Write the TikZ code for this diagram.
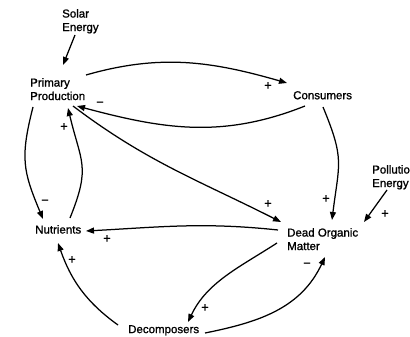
\documentclass[tikz,border=0pt]{standalone}
\usepackage{fontspec}
\setmainfont{Liberation Sans}[FakeBold=1.2]
\usetikzlibrary{arrows.meta}
\begin{document}
\begin{tikzpicture}[x=1pt,y=-1pt,
  lbl/.style={font=\fontsize{11.5}{13.5}\selectfont, inner sep=0pt, anchor=north west, align=left},
  sgn/.style={font=\fontsize{13}{14}\selectfont, inner sep=0pt},
  conn/.style={line width=1.25pt, -{Triangle[length=8pt,width=6pt]}}]
\useasboundingbox (0,0) rectangle (410,337);
\clip (0,0) rectangle (410,337);
% nodes
\node[lbl] (solar) at (62,9) {Solar\\Energy};
\node[lbl] (pp) at (30,78) {Primary\\Production};
\node[lbl] (cons) at (293,91) {Consumers};
\node[lbl] (nut) at (35,225) {Nutrients};
\node[lbl] (dom) at (287,228) {Dead Organic\\Matter};
\node[lbl] (dec) at (128,325) {Decomposers};
\node[lbl] (poll) at (372,165) {Pollution\\Energy};
% connectors
\draw[conn] ([shift={(13,26)}]solar.north west) -- ([shift={(33,-13)}]pp.north west);
\draw[conn] ([shift={(56,-3)}]pp.north west) .. controls +(75,-21.5) and +(-75,-21.5) .. ([shift={(-6,-8)}]cons.north west);
\draw[conn] ([shift={(12,15)}]cons.north west) .. controls +(-83,33) and +(86,23) .. ([shift={(47,28)}]pp.north west);
\draw[conn] ([shift={(3,29)}]pp.north west) .. controls +(-13,51) and +(-20,-48) .. ([shift={(8,-6)}]nut.north west);
\draw[conn] ([shift={(35,-7)}]nut.north west) .. controls +(21,-52) and +(13,55) .. ([shift={(38,30)}]pp.north west);
\draw[conn] ([shift={(43,28)}]pp.north west) .. controls +(74,56) and +(-83,-42) .. ([shift={(-6,-6)}]dom.north west);
\draw[conn] ([shift={(-9,2)}]dom.north west) .. controls +(-75,-8) and +(75,-4) .. ([shift={(51,6)}]nut.north west);
\draw[conn] ([shift={(30,16)}]cons.north west) .. controls +(22,53) and +(7,-57) .. ([shift={(45,-8)}]dom.north west);
\draw[conn] ([shift={(15,25)}]poll.north west) -- ([shift={(77,-6)}]dom.north west);
\draw[conn] ([shift={(-10,15)}]dom.north west) .. controls +(-37,24) and +(19,-40) .. ([shift={(60,-3)}]dec.north west);
\draw[conn] ([shift={(77,8)}]dec.north west) .. controls +(55,-11) and +(-24,51) .. ([shift={(38,29)}]dom.north west);
\draw[conn] ([shift={(-10,0)}]dec.north west) .. controls +(-32,-23) and +(13,37) .. ([shift={(23,18)}]nut.north west);
% signs
\node[sgn] (s1) at (268,86) {+};
\node[sgn] (s2) at (100,104) {−};
\node[sgn] (s3) at (45,202) {−};
\node[sgn] (s4) at (64,127) {+};
\node[sgn] (s5) at (268,204) {+};
\node[sgn] (s6) at (107,239) {+};
\node[sgn] (s7) at (326,199) {+};
\node[sgn] (s8) at (385,214) {+};
\node[sgn] (s9) at (205,308) {+};
\node[sgn] (s10) at (307,265) {−};
\node[sgn] (s11) at (72,260) {+};
\end{tikzpicture}
\end{document}
